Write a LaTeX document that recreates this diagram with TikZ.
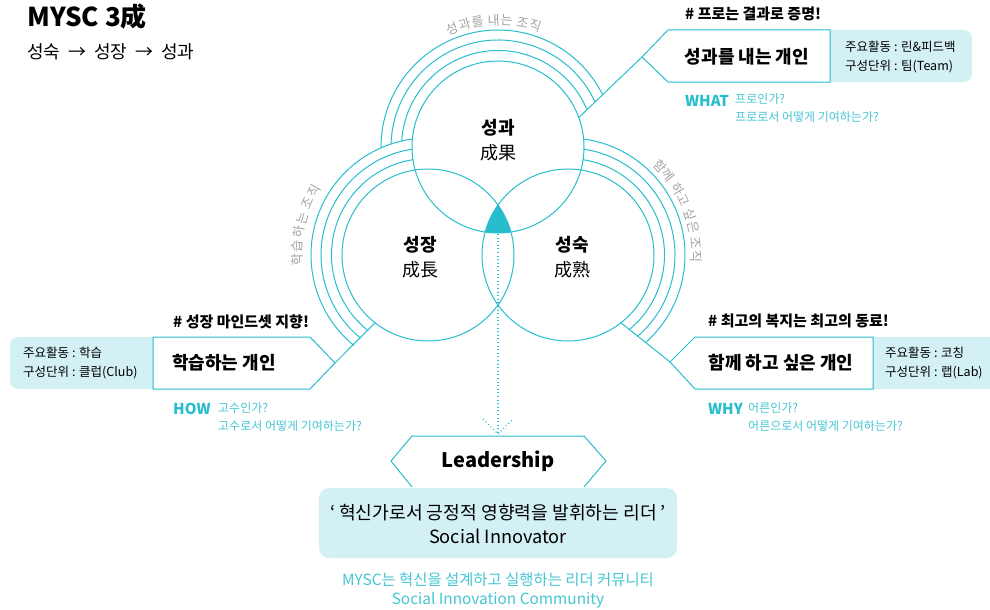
\documentclass[tikz,border=0pt]{standalone}
\usepackage{fontspec}
\setmainfont{Noto Sans CJK KR}
\definecolor{mycyan}{HTML}{27BDCD}
\definecolor{mysoft}{HTML}{45C5D3}
\definecolor{mylight}{HTML}{D3F0F4}
\definecolor{mygray}{HTML}{A3A3A3}
\tikzset{
  ring/.style={draw=mycyan, line width=1pt},
  band/.style={draw=mycyan, line width=1pt},
  conn/.style={draw=mycyan, line width=1pt},
  item/.style={draw=mycyan, fill=white, line width=1pt},
  side/.style={fill=mylight},
  dots/.style={draw=mycyan, line width=1.1pt, dash pattern=on 1pt off 2.6pt},
  txt/.style={inner sep=0pt},
  orgch/.style={txt, text=mygray, font=\fontsize{13}{13}\selectfont},
  core/.style={txt, font=\bfseries\fontsize{18}{20}\selectfont},
  hanja/.style={txt, font=\fontsize{18}{20}\selectfont},
  role/.style={txt, font=\bfseries\fontsize{18}{20}\selectfont},
  tag/.style={txt, anchor=west, font=\bfseries\fontsize{15}{17}\selectfont},
  info/.style={txt, anchor=west, align=left, font=\fontsize{12.5}{19}\selectfont},
  ask/.style={txt, anchor=west, text=mycyan, font=\bfseries\fontsize{15}{17}\selectfont},
  quest/.style={txt, anchor=west, align=left, text=mysoft, font=\fontsize{12}{18}\selectfont}
}
\begin{document}
\begin{tikzpicture}[x=1pt,y=1pt]
  \useasboundingbox (0,0) rectangle (990,-610);
  \coordinate (T) at (498,-147);
  \coordinate (L) at (428,-255);
  \coordinate (R) at (568,-255);

  \node[txt, anchor=west, font=\bfseries\fontsize{26}{28}\selectfont] (title) at (27,-17) {MYSC 3成};
  \node[txt, anchor=west, font=\fontsize{18}{20}\selectfont] (order) at (27,-52) {성숙\hspace{8pt}→\hspace{8pt}성장\hspace{8pt}→\hspace{8pt}성과};

  \begin{scope}
    \clip (T) circle[radius=86];
    \clip (L) circle[radius=86];
    \fill[mycyan] (R) circle[radius=86];
  \end{scope}
  \draw[ring] (T) circle[radius=86];
  \draw[ring] (L) circle[radius=86];
  \draw[ring] (R) circle[radius=86];

  \draw[band] ([shift={(22.6:96.5)}]T) arc[start angle=22.6, end angle=176.4, radius=96.5];
  \draw[band] ([shift={(24.9:107)}]T) arc[start angle=24.9, end angle=178.4, radius=107];
  \draw[band] ([shift={(26.7:117)}]T) arc[start angle=26.7, end angle=180.4, radius=117];
  \draw[band] ([shift={(98.9:96.5)}]L) arc[start angle=98.9, end angle=231.7, radius=96.5];
  \draw[band] ([shift={(98.5:107)}]L) arc[start angle=98.5, end angle=231.1, radius=107];
  \draw[band] ([shift={(97.7:117)}]L) arc[start angle=97.7, end angle=230.6, radius=117];
  \draw[band] ([shift={(81.1:96.5)}]R) arc[start angle=81.1, end angle=-51, radius=96.5];
  \draw[band] ([shift={(81.5:107)}]R) arc[start angle=81.5, end angle=-49.7, radius=107];
  \draw[band] ([shift={(82.3:117)}]R) arc[start angle=82.3, end angle=-48.6, radius=117];

  \node[orgch, rotate=21.1] (ta1) at ([shift={(111.1:127)}]T) {성};
  \node[orgch, rotate=15.2] (ta2) at ([shift={(105.2:127)}]T) {과};
  \node[orgch, rotate=9.3] (ta3) at ([shift={(99.3:127)}]T) {를};
  \node[orgch, rotate=2.0] (ta4) at ([shift={(92.0:127)}]T) {내};
  \node[orgch, rotate=-3.9] (ta5) at ([shift={(86.1:127)}]T) {는};
  \node[orgch, rotate=-11.2] (ta6) at ([shift={(78.8:127)}]T) {조};
  \node[orgch, rotate=-17.1] (ta7) at ([shift={(72.9:127)}]T) {직};

  \node[orgch, rotate=92] (la1) at ([shift={(182:131)}]L) {학};
  \node[orgch, rotate=86] (la2) at ([shift={(176:131)}]L) {습};
  \node[orgch, rotate=80] (la3) at ([shift={(170:131)}]L) {하};
  \node[orgch, rotate=74] (la4) at ([shift={(164:131)}]L) {는};
  \node[orgch, rotate=66.5] (la5) at ([shift={(156.5:131)}]L) {조};
  \node[orgch, rotate=60.5] (la6) at ([shift={(150.5:131)}]L) {직};

  \node[orgch, rotate=-45.85] (ra1) at ([shift={(44.15:128)}]R) {함};
  \node[orgch, rotate=-51.55] (ra2) at ([shift={(38.45:128)}]R) {께};
  \node[orgch, rotate=-58.85] (ra3) at ([shift={(31.15:128)}]R) {하};
  \node[orgch, rotate=-64.55] (ra4) at ([shift={(25.45:128)}]R) {고};
  \node[orgch, rotate=-71.85] (ra5) at ([shift={(18.15:128)}]R) {싶};
  \node[orgch, rotate=-77.55] (ra6) at ([shift={(12.45:128)}]R) {은};
  \node[orgch, rotate=-84.85] (ra7) at ([shift={(5.15:128)}]R) {조};
  \node[orgch, rotate=-90.55] (ra8) at ([shift={(-0.55:128)}]R) {직};

  \node[core] (gwa) at (498,-128) {성과};
  \node[hanja] (gwah) at (498,-153) {成果};
  \node[core] (jang) at (420,-245) {성장};
  \node[hanja] (jangh) at (420,-270) {成長};
  \node[core] (suk) at (572,-245) {성숙};
  \node[hanja] (sukh) at (572,-270) {成熟};

  \path (T) ++(20:86) coordinate (tpin);
  \path (L) ++(232:86) coordinate (lpin);
  \path (R) ++(-52:86) coordinate (rpin);
  \coordinate (pronotch) at (642,-57);
  \coordinate (clubnotch) at (335,-363);
  \coordinate (labnotch) at (670,-362);

  \fill[side, rounded corners=8] (820,-30) rectangle (972,-82);
  \draw[item] (pronotch) -- (668,-30) -- (830,-30) -- (830,-82) -- (668,-82) -- cycle;
  \draw[conn] (tpin) -- (pronotch);
  \node[tag] (protag) at (685,-14) {\# 프로는 결과로 증명!};
  \node[role] (pro) at (747,-57) {성과를 내는 개인};
  \node[info] (proinfo) at (845,-57.5) {주요활동 : 린\&피드백\\구성단위 : 팀(Team)};
  \node[ask] (what) at (685,-101) {WHAT};
  \node[quest] (whatq) at (735,-108.5) {프로인가?\\프로로서 어떻게 기여하는가?};

  \fill[side, rounded corners=8] (10,-337) rectangle (165,-389);
  \draw[item] (153,-337) -- (310,-337) -- (clubnotch) -- (310,-389) -- (153,-389) -- cycle;
  \draw[conn] (lpin) -- (clubnotch);
  \node[tag] (clubtag) at (173,-322) {\# 성장 마인드셋 지향!};
  \node[role] (club) at (224,-363) {학습하는 개인};
  \node[info] (clubinfo) at (23,-363.5) {주요활동 : 학습\\구성단위 : 클럽(Club)};
  \node[ask] (how) at (173,-409) {HOW};
  \node[quest] (howq) at (218,-417) {고수인가?\\고수로서 어떻게 기여하는가?};

  \fill[side, rounded corners=8] (865,-337) rectangle (1000,-389);
  \draw[item] (873,-337) -- (695,-337) -- (labnotch) -- (695,-389) -- (873,-389) -- cycle;
  \draw[conn] (rpin) -- (labnotch);
  \node[tag] (labtag) at (708,-321) {\# 최고의 복지는 최고의 동료!};
  \node[role] (lab) at (781,-363) {함께 하고 싶은 개인};
  \node[info] (labinfo) at (885,-363.5) {주요활동 : 코칭\\구성단위 : 랩(Lab)};
  \node[ask] (why) at (708,-409) {WHY};
  \node[quest] (whyq) at (748,-417) {어른인가?\\어른으로서 어떻게 기여하는가?};

  \coordinate (tri) at (498,-234);
  \coordinate (leadtop) at (498,-434);
  \coordinate (tipl) at (483,-419);
  \coordinate (tipr) at (513,-419);
  \draw[dots] (tri) -- (leadtop);
  \draw[dots] (tipl) -- (leadtop) -- (tipr);

  \fill[side, rounded corners=10] (319,-488) rectangle (677,-558);
  \draw[item] (412,-487) -- (391,-461) -- (412,-436) -- (584,-436) -- (606,-461) -- (584,-487);
  \node[txt, font=\bfseries\fontsize{20}{22}\selectfont] (lead) at (498,-461) {Leadership};
  \node[txt, font=\fontsize{18.2}{20}\selectfont] (leadko) at (498,-513) {‘ 혁신가로서 긍정적 영향력을 발휘하는 리더 ’};
  \node[txt, font=\fontsize{18.2}{20}\selectfont] (leaden) at (498,-536) {Social Innovator};
  \node[txt, text=mysoft, font=\fontsize{15.4}{18}\selectfont] (commko) at (498,-580) {MYSC는 혁신을 설계하고 실행하는 리더 커뮤니티};
  \node[txt, text=mysoft, font=\fontsize{15.4}{18}\selectfont] (commen) at (498,-600) {Social Innovation Community};
\end{tikzpicture}
\end{document}
